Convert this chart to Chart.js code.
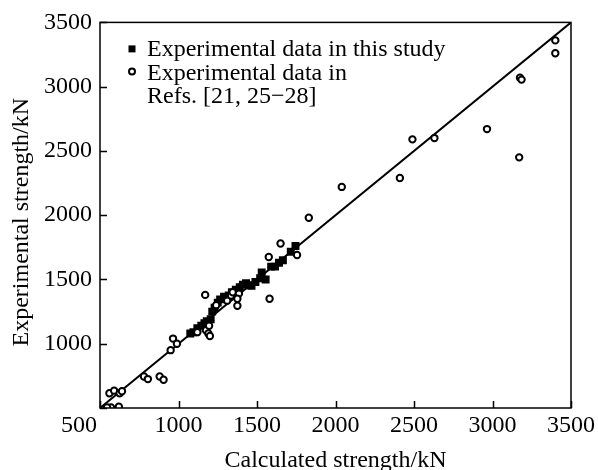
<!DOCTYPE html>
<html><head><meta charset="utf-8">
<script src="https://cdn.jsdelivr.net/npm/chart.js@4.4.0/dist/chart.umd.min.js"></script>
<style>html,body{margin:0;padding:0;background:#fff}#wrap{width:598px;height:470px}</style>
</head><body><div id="wrap"><canvas id="c" width="598" height="470"></canvas></div>
<script>
const xTicks = [500, 1000, 1500, 2000, 2500, 3000, 3500];
const yTicks = [500, 1000, 1500, 2000, 2500, 3000, 3500];
const xTitle = "Calculated strength/kN";
const yTitle = "Experimental strength/kN";
const legendLabels = ["Experimental data in this study", "Experimental data in", "Refs. [21, 25\u221228]"];

// Experimental data in this study (filled squares)
const studyX = [1075, 1095, 1120, 1145, 1165, 1180, 1205, 1215, 1230, 1250, 1265, 1290, 1320, 1340, 1365, 1390, 1410, 1430, 1450, 1465, 1490, 1520, 1530, 1555, 1590, 1615, 1640, 1665, 1715, 1745];
const studyY = [1080, 1090, 1120, 1140, 1160, 1175, 1190, 1250, 1280, 1320, 1345, 1365, 1375, 1400, 1420, 1440, 1460, 1470, 1455, 1450, 1480, 1510, 1555, 1500, 1600, 1600, 1630, 1650, 1715, 1760];

// Experimental data in Refs. (open circles)
const refsX = [3400, 3400, 3175, 3185, 2965, 3170, 2630, 2490, 2410, 2040, 1830, 1650, 1755, 1575, 1580, 1170, 1240, 1310, 1335, 1345, 1385, 1375, 1375, 1175, 1190, 1200, 1195, 1120, 965, 990, 950, 780, 805, 880, 905, 560, 590, 625, 640, 570, 620, 545];
const refsY = [3360, 3260, 3070, 3055, 2670, 2450, 2600, 2590, 2290, 2220, 1980, 1780, 1690, 1675, 1350, 1380, 1300, 1335, 1375, 1400, 1390, 1350, 1295, 1105, 1080, 1060, 1140, 1090, 1040, 1000, 950, 745, 725, 745, 720, 615, 635, 615, 630, 505, 510, 505];

// Reference line y = x
const lineX = [500, 3500];
const lineY = [500, 3500];

const FAMILY = "'Liberation Serif', 'DejaVu Serif', serif";
Chart.defaults.font.family = FAMILY;
Chart.defaults.color = '#000';

const toPts = (xs, ys) => xs.map((x, i) => ({x: x, y: ys[i]}));

const framePlugin = {
  id: 'frame',
  afterDraw(chart) {
    const {ctx, chartArea: a, scales: {x, y}} = chart;
    ctx.save();
    ctx.strokeStyle = '#000';
    ctx.lineWidth = 1.5;
    ctx.strokeRect(a.left, a.top, a.right - a.left, a.bottom - a.top);
    ctx.beginPath();
    xTicks.forEach(v => {
      const px = Math.round(x.getPixelForValue(v)) + 0.5;
      ctx.moveTo(px, a.bottom); ctx.lineTo(px, a.bottom - 7);
    });
    yTicks.forEach(v => {
      const py = Math.round(y.getPixelForValue(v)) + 0.5;
      ctx.moveTo(a.left, py); ctx.lineTo(a.left + 7, py);
    });
    ctx.stroke();
    // corner label
    ctx.fillStyle = '#000';
    ctx.font = '24px ' + FAMILY;
    ctx.textAlign = 'center';
    ctx.textBaseline = 'middle';
    ctx.fillText(String(xTicks[0]), a.left - 21, a.bottom + 18);
    // legend
    ctx.textAlign = 'left';
    ctx.textBaseline = 'alphabetic';
    const lx = a.left + 32, tx = a.left + 47;
    ctx.fillRect(lx - 3.5, a.top + 23, 7, 7);
    ctx.beginPath();
    ctx.lineWidth = 2;
    ctx.arc(lx, a.top + 49, 3, 0, Math.PI * 2);
    ctx.stroke();
    ctx.fillText(legendLabels[0], tx, a.top + 34);
    ctx.fillText(legendLabels[1], tx, a.top + 58);
    ctx.fillText(legendLabels[2], tx, a.top + 81);
    // y-axis title
    ctx.save();
    ctx.translate(22, (a.top + a.bottom) / 2 + 7);
    ctx.rotate(-Math.PI / 2);
    ctx.textAlign = 'center';
    ctx.textBaseline = 'middle';
    ctx.fillText(yTitle, 0, 0);
    ctx.restore();
    ctx.restore();
  }
};

new Chart(document.getElementById('c'), {
  type: 'scatter',
  data: {
    datasets: [
      {
        label: legendLabels[1] + ' ' + legendLabels[2],
        data: toPts(refsX, refsY),
        pointStyle: 'circle',
        pointRadius: 3.2,
        borderWidth: 2,
        borderColor: '#000',
        backgroundColor: '#fff'
      },
      {
        type: 'line',
        label: 'y = x',
        data: toPts(lineX, lineY),
        borderColor: '#000',
        borderWidth: 2,
        pointRadius: 0,
        fill: false
      },
      {
        label: legendLabels[0],
        data: toPts(studyX, studyY),
        pointStyle: 'rect',
        pointRadius: 5.6,
        borderWidth: 0,
        backgroundColor: '#000'
      }
    ]
  },
  options: {
    responsive: false,
    animation: false,
    devicePixelRatio: 1,
    layout: {padding: {top: 20, right: 25, left: 0, bottom: 0}},
    plugins: {legend: {display: false}, tooltip: {enabled: false}},
    scales: {
      x: {
        type: 'linear', min: 500, max: 3500,
        afterBuildTicks: s => { s.ticks = xTicks.map(v => ({value: v})); },
        afterFit: s => { s.height = 62; },
        grid: {display: false, drawTicks: false},
        border: {display: false},
        ticks: {
          callback: v => v === xTicks[0] ? '' : String(v),
          font: {size: 24, family: FAMILY}, color: '#000', padding: 3,
          maxRotation: 0, autoSkip: false
        },
        title: {display: true, text: xTitle, color: '#000', padding: 0,
          font: {size: 24, family: FAMILY, lineHeight: 0.8}}
      },
      y: {
        type: 'linear', min: 500, max: 3500,
        afterBuildTicks: s => { s.ticks = yTicks.map(v => ({value: v})); },
        afterFit: s => { s.width = 100; },
        grid: {display: false, drawTicks: false},
        border: {display: false},
        ticks: {
          callback: v => v === yTicks[0] ? '' : String(v),
          font: {size: 24, family: FAMILY}, color: '#000', padding: 8,
          autoSkip: false
        },
        title: {display: false}
      }
    }
  },
  plugins: [framePlugin]
});
</script>
</body></html>
